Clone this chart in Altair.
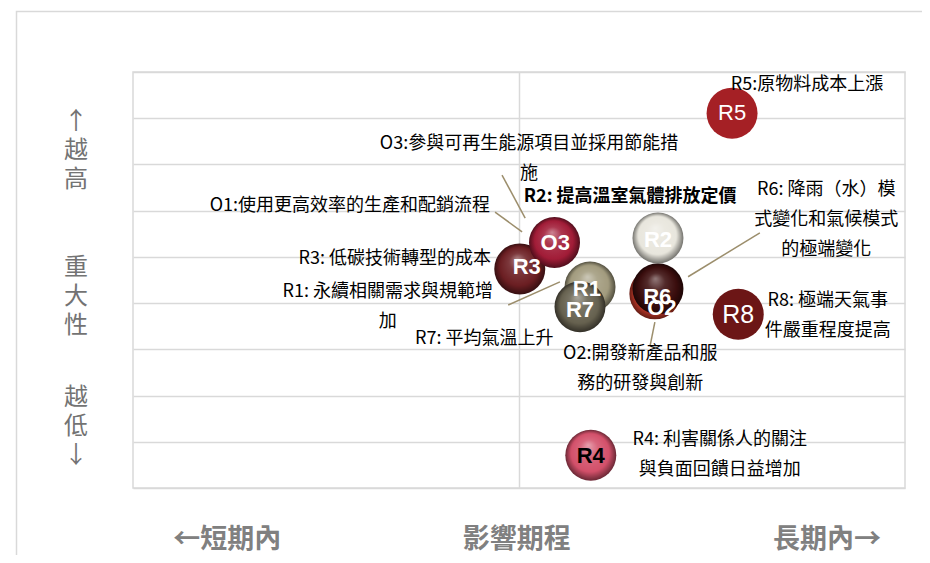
import altair as alt
import pandas as pd

# ---------------- data ----------------
codes = ["R3", "O3", "R1", "R7", "O2", "R6", "R2", "R5", "R8", "R4"]
bub_x = [5.01, 5.46, 5.92, 5.79, 6.76, 6.80, 6.80, 7.76, 7.84, 5.93]
bub_y = [4.74, 5.31, 4.35, 3.92, 4.20, 4.31, 5.41, 8.11, 3.76, 0.71]
lab_x = [5.10, 5.47, 5.88, 5.79, 6.85, 6.79, 6.80, 7.76, 7.84, 5.93]
lab_y = [4.78, 5.30, 4.31, 3.85, 3.89, 4.13, 5.37, 8.11, 3.74, 0.69]
base_colors = ["#6B1E22", "#A11C37", "#A29B7E", "#66614F", "#C73A2A",
               "#3A0D0D", "#E8E6DD", "#A52025", "#6C1616", "#D3506A"]
flat = [False, False, False, False, False, False, False, True, True, False]
lab_colors = ["white"] * 9 + ["black"]
lab_bold = [True, True, True, True, True, True, True, False, False, True]
lab_size = [22, 22, 22, 22, 22, 22, 22, 22, 25, 22]

ann_text = [
    "R5:原物料成本上漲",
    "O3:參與可再生能源項目並採用節能措\n施",
    "R2: 提高溫室氣體排放定價",
    "O1:使用更高效率的生產和配銷流程",
    "R3: 低碳技術轉型的成本",
    "R1: 永續相關需求與規範增\n加",
    "R7: 平均氣溫上升",
    "R6: 降雨（水）模\n式變化和氣候模式\n的極端變化",
    "R8: 極端天氣事\n件嚴重程度提高",
    "O2:開發新產品和服\n務的研發與創新",
    "R4: 利害關係人的關注\n與負面回饋日益增加",
]
ann_x = [8.73, 5.13, 6.44, 2.81, 3.39, 3.30, 4.55, 8.98, 9.00, 6.57, 7.60]
ann_y = [8.72, 7.45, 6.30, 6.10, 4.95, 4.24, 3.22, 6.45, 4.05, 2.90, 1.04]
ann_bold = [False, False, True, False, False, False, False, False, False, False, False]

seg_x1 = [4.78, 4.69, 4.86, 7.19, 6.76]
seg_y1 = [6.77, 5.97, 3.96, 4.57, 3.59]
seg_x2 = [5.08, 5.04, 5.53, 8.12, 6.70]
seg_y2 = [5.84, 5.54, 4.46, 5.52, 3.09]

ylab_text = ["↑\n越\n高", "重\n大\n性", "越\n低\n↓"]
ylab_y = [7.92, 4.76, 1.95]
xlab_text = ["←短期內", "影響期程", "長期內→"]
xlab_x = [1.22, 4.97, 8.99]

# ---------------- helpers ----------------
def mix(c1, c2, t):
    a = [int(c1[i:i + 2], 16) for i in (1, 3, 5)]
    b = [int(c2[i:i + 2], 16) for i in (1, 3, 5)]
    return "#" + "".join(f"{round(a[k] + (b[k] - a[k]) * t):02x}" for k in range(3))


def fill_for(base, is_flat):
    if is_flat:
        return base
    return {
        "gradient": "radial",
        "x1": 0.45, "y1": 0.3, "r1": 0,
        "x2": 0.5, "y2": 0.5, "r2": 0.5,
        "stops": [
            {"offset": 0, "color": mix(base, "#ffffff", 0.45)},
            {"offset": 0.35, "color": mix(base, "#ffffff", 0.12)},
            {"offset": 0.75, "color": base},
            {"offset": 1, "color": mix(base, "#000000", 0.5)},
        ],
    }


FONT = "Noto Sans CJK TC"
xs = alt.Scale(domain=[0, 10], nice=False, zero=False)
ys = alt.Scale(domain=[0, 9], nice=False, zero=False)
AX = alt.Axis(values=[5], grid=True, labels=False, ticks=False, domain=False,
              title=None, gridColor="#D9D9D9", gridWidth=1.5)
AY = alt.Axis(values=list(range(10)), grid=True, labels=False, ticks=False,
              domain=False, title=None, gridColor="#D9D9D9", gridWidth=1.5)


def X(f):
    return alt.X(f, scale=xs, axis=AX)


def Y(f):
    return alt.Y(f, scale=ys, axis=AY)


bub = pd.DataFrame({"code": codes, "x": bub_x, "y": bub_y, "lx": lab_x, "ly": lab_y,
                    "lc": lab_colors, "bold": lab_bold, "fs": lab_size})
ann = pd.DataFrame({"t": ann_text, "x": ann_x, "y": ann_y, "bold": ann_bold})
seg = pd.DataFrame({"x": seg_x1, "y": seg_y1, "x2": seg_x2, "y2": seg_y2})
ylab = pd.DataFrame({"t": ylab_text, "y": ylab_y})
xlab = pd.DataFrame({"t": xlab_text, "x": xlab_x})

frame = alt.Chart(pd.DataFrame({"a": [0]})).mark_rect(
    filled=False, stroke="#D9D9D9", strokeWidth=1.5
).encode(x=alt.value(-116.5), x2=alt.value(1000), y=alt.value(-60.5), y2=alt.value(700))

rules = alt.Chart(seg).mark_rule(color="#9C8E6C", strokeWidth=1.5).encode(
    x=X("x:Q"), y=Y("y:Q"), x2="x2:Q", y2="y2:Q",
)

bubbles = []
for c, col, fl in zip(codes, base_colors, flat):
    bubbles.append(
        alt.Chart(bub).transform_filter(alt.datum.code == c)
        .mark_circle(size=2600, opacity=1, fill=fill_for(col, fl), strokeWidth=0)
        .encode(x=X("x:Q"), y=Y("y:Q"))
    )


def blabels(bold):
    return alt.Chart(bub).transform_filter(alt.datum.bold == bold).mark_text(
        font="Liberation Sans", fontWeight="bold" if bold else "normal",
        align="center", baseline="middle",
    ).encode(
        x=X("lx:Q"), y=Y("ly:Q"),
        text="code:N", color=alt.Color("lc:N", scale=None),
        size=alt.Size("fs:Q", scale=None),
    )


def annlayer(bold):
    return alt.Chart(ann).transform_filter(alt.datum.bold == bold).mark_text(
        font=FONT, fontSize=18, fontWeight="bold" if bold else "normal",
        color="#000000", align="center", baseline="middle", lineBreak="\n", lineHeight=30,
    ).encode(x=X("x:Q"), y=Y("y:Q"), text="t:N")


ytext = alt.Chart(ylab).mark_text(
    font=FONT, fontSize=24, color="#737373", align="center", baseline="middle",
    lineBreak="\n", lineHeight=29,
).encode(x=alt.value(-57), y=Y("y:Q"), text="t:N")

xtext = alt.Chart(xlab).mark_text(
    font=FONT, fontSize=27, fontWeight="bold", color="#808080", align="center", baseline="middle",
).encode(x=X("x:Q"), y=alt.value(468), text="t:N")

chart = alt.layer(
    frame, rules, *bubbles, blabels(True), blabels(False), annlayer(False), annlayer(True), ytext, xtext
).properties(
    width=772, height=416,
    padding={"left": 125, "top": 64, "right": 17, "bottom": 67},
    autosize=alt.AutoSizeParams(type="none"),
    background="white",
).configure_view(stroke="#D9D9D9", strokeWidth=1.5)

chart.save("out.html", embed_options={"renderer": "svg", "actions": False})
